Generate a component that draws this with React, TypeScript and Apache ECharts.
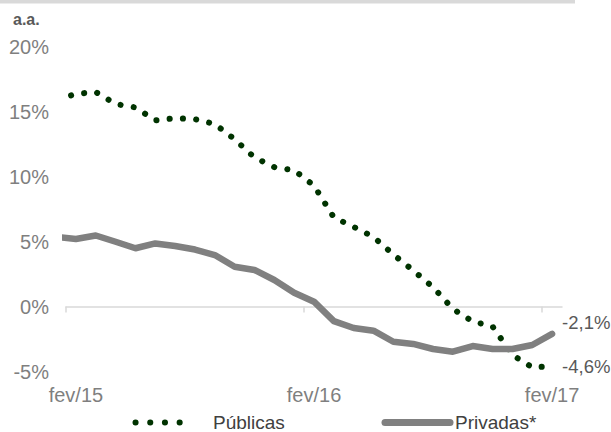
import React, { useEffect, useRef } from 'react';
import * as echarts from 'echarts';

// Monthly readings (% a.a.); jan/15 sits just left of the plot and is clipped.
const months = [
  'jan/15', 'fev/15', 'mar/15', 'abr/15', 'mai/15', 'jun/15', 'jul/15', 'ago/15', 'set/15', 'out/15', 'nov/15', 'dez/15',
  'jan/16', 'fev/16', 'mar/16', 'abr/16', 'mai/16', 'jun/16', 'jul/16', 'ago/16', 'set/16', 'out/16', 'nov/16', 'dez/16',
  'jan/17', 'fev/17',
];
const publicas = [
  15.9, 16.35, 16.5, 15.58, 15.31, 14.32, 14.48, 14.41, 14.04, 12.86, 11.46, 10.72, 10.48,
  9.3, 6.85, 6.12, 5.35, 4.0, 2.77, 1.49, -0.19, -1.15, -1.54, -3.73, -4.68, -4.6,
];
const privadas = [
  5.35, 5.19, 5.46, 4.98, 4.48, 4.85, 4.65, 4.38, 3.96, 3.06, 2.81, 2.04, 1.06,
  0.37, -1.12, -1.65, -1.86, -2.71, -2.88, -3.27, -3.48, -3.04, -3.27, -3.27, -2.96, -2.1,
];
const labelledMonths = ['fev/15', 'fev/16', 'fev/17'];
const yMin = -5;
const yMax = 20;
const yStep = 5;

const FONT = '"Liberation Sans", Arial, sans-serif';
const AXIS_GREY = '#7f7f7f';
const RULE_GREY = '#d9d9d9';

// month index relative to fev/15
const pos = (i: number) => i - 1;
const labelPositions = labelledMonths.map((m) => pos(months.indexOf(m)));
const tickPositions = labelPositions.map((p) => p - 0.5);
const pct = (v: number) => v.toFixed(1).replace('.', ',') + '%';

export default function App() {
  const ref = useRef<HTMLDivElement>(null);

  useEffect(() => {
    if (!ref.current) return;
    const chart = echarts.init(ref.current, undefined, { renderer: 'svg' });

    const xRange = { min: -0.5, max: pos(months.length - 1) + 0.5 };

    chart.setOption({
      animation: false,
      backgroundColor: '#ffffff',
      textStyle: { fontFamily: FONT },
      grid: { left: 66, right: 49, top: 46.5, bottom: 60.5, containLabel: false },
      graphic: [
        { type: 'rect', left: 0, top: 0, shape: { x: 0, y: 0, width: 575, height: 3.5 }, style: { fill: RULE_GREY } },
        {
          type: 'text', left: 13, top: 11,
          style: { text: 'a.a.', font: `bold 16px ${FONT}`, fill: '#595959' },
        },
      ],
      xAxis: [
        {
          type: 'value', ...xRange,
          axisLine: { show: true, onZero: true, lineStyle: { color: RULE_GREY, width: 1.5 } },
          axisTick: { show: true, length: 6, customValues: tickPositions, lineStyle: { color: RULE_GREY, width: 1.5 } },
          axisLabel: { show: false },
          splitLine: { show: false },
        },
        {
          type: 'value', ...xRange, position: 'bottom',
          axisLine: { show: false, onZero: false },
          axisTick: { show: false },
          splitLine: { show: false },
          axisLabel: {
            show: true, customValues: labelPositions, margin: 13,
            fontSize: 20, color: AXIS_GREY, fontFamily: FONT,
            formatter: (v: number) => months[Math.round(v) + 1],
          },
        },
      ],
      yAxis: {
        type: 'value', min: yMin, max: yMax, interval: yStep,
        axisLine: { show: false }, axisTick: { show: false }, splitLine: { show: false },
        axisLabel: { fontSize: 20, color: AXIS_GREY, fontFamily: FONT, margin: 17, formatter: (v: number) => `${v}%` },
      },
      legend: [
        {
          data: ['Públicas'], left: 132.5, top: 413, padding: 0,
          itemWidth: 58.5, itemHeight: 18,
          itemStyle: { opacity: 0 },
          lineStyle: { color: '#003300', width: 6, type: [0.1, 14.6], dashOffset: 0, cap: 'round' },
          textStyle: { fontSize: 19, lineHeight: 18, color: '#404040', fontFamily: FONT, padding: [0, 0, 0, 14] },
        },
        {
          data: ['Privadas*'], left: 381.5, top: 413, padding: 0,
          itemWidth: 65, itemHeight: 18,
          itemStyle: { opacity: 0 },
          lineStyle: { color: '#808080', width: 7, cap: 'round' },
          textStyle: { fontSize: 19, lineHeight: 18, color: '#404040', fontFamily: FONT },
        },
      ],
      series: [
        {
          name: 'Públicas', type: 'line', xAxisIndex: 0, symbol: 'none', clip: true,
          data: publicas.map((v, i) => [pos(i), v]),
          lineStyle: { color: '#003300', width: 6, type: [0.1, 13.2], dashOffset: 10.9, cap: 'round' },
          itemStyle: { color: '#003300' },
          endLabel: {
            show: true, distance: 10, offset: [0, 0], fontSize: 18.5, color: '#595959', fontFamily: FONT,
            formatter: (p: any) => pct(p.value[1]),
          },
        },
        {
          name: 'Privadas*', type: 'line', xAxisIndex: 0, symbol: 'none', clip: true,
          data: privadas.map((v, i) => [pos(i), v]),
          lineStyle: { color: '#808080', width: 6.5, cap: 'round', join: 'round' },
          itemStyle: { color: '#808080' },
          endLabel: {
            show: true, distance: 10, offset: [0, -11], fontSize: 18.5, color: '#595959', fontFamily: FONT,
            formatter: (p: any) => pct(p.value[1]),
          },
        },
      ],
    });

    return () => chart.dispose();
  }, []);

  return (
    <div
      ref={ref}
      style={{ position: 'fixed', left: 0, top: 0, width: 611, height: 432, background: '#fff' }}
    />
  );
}
